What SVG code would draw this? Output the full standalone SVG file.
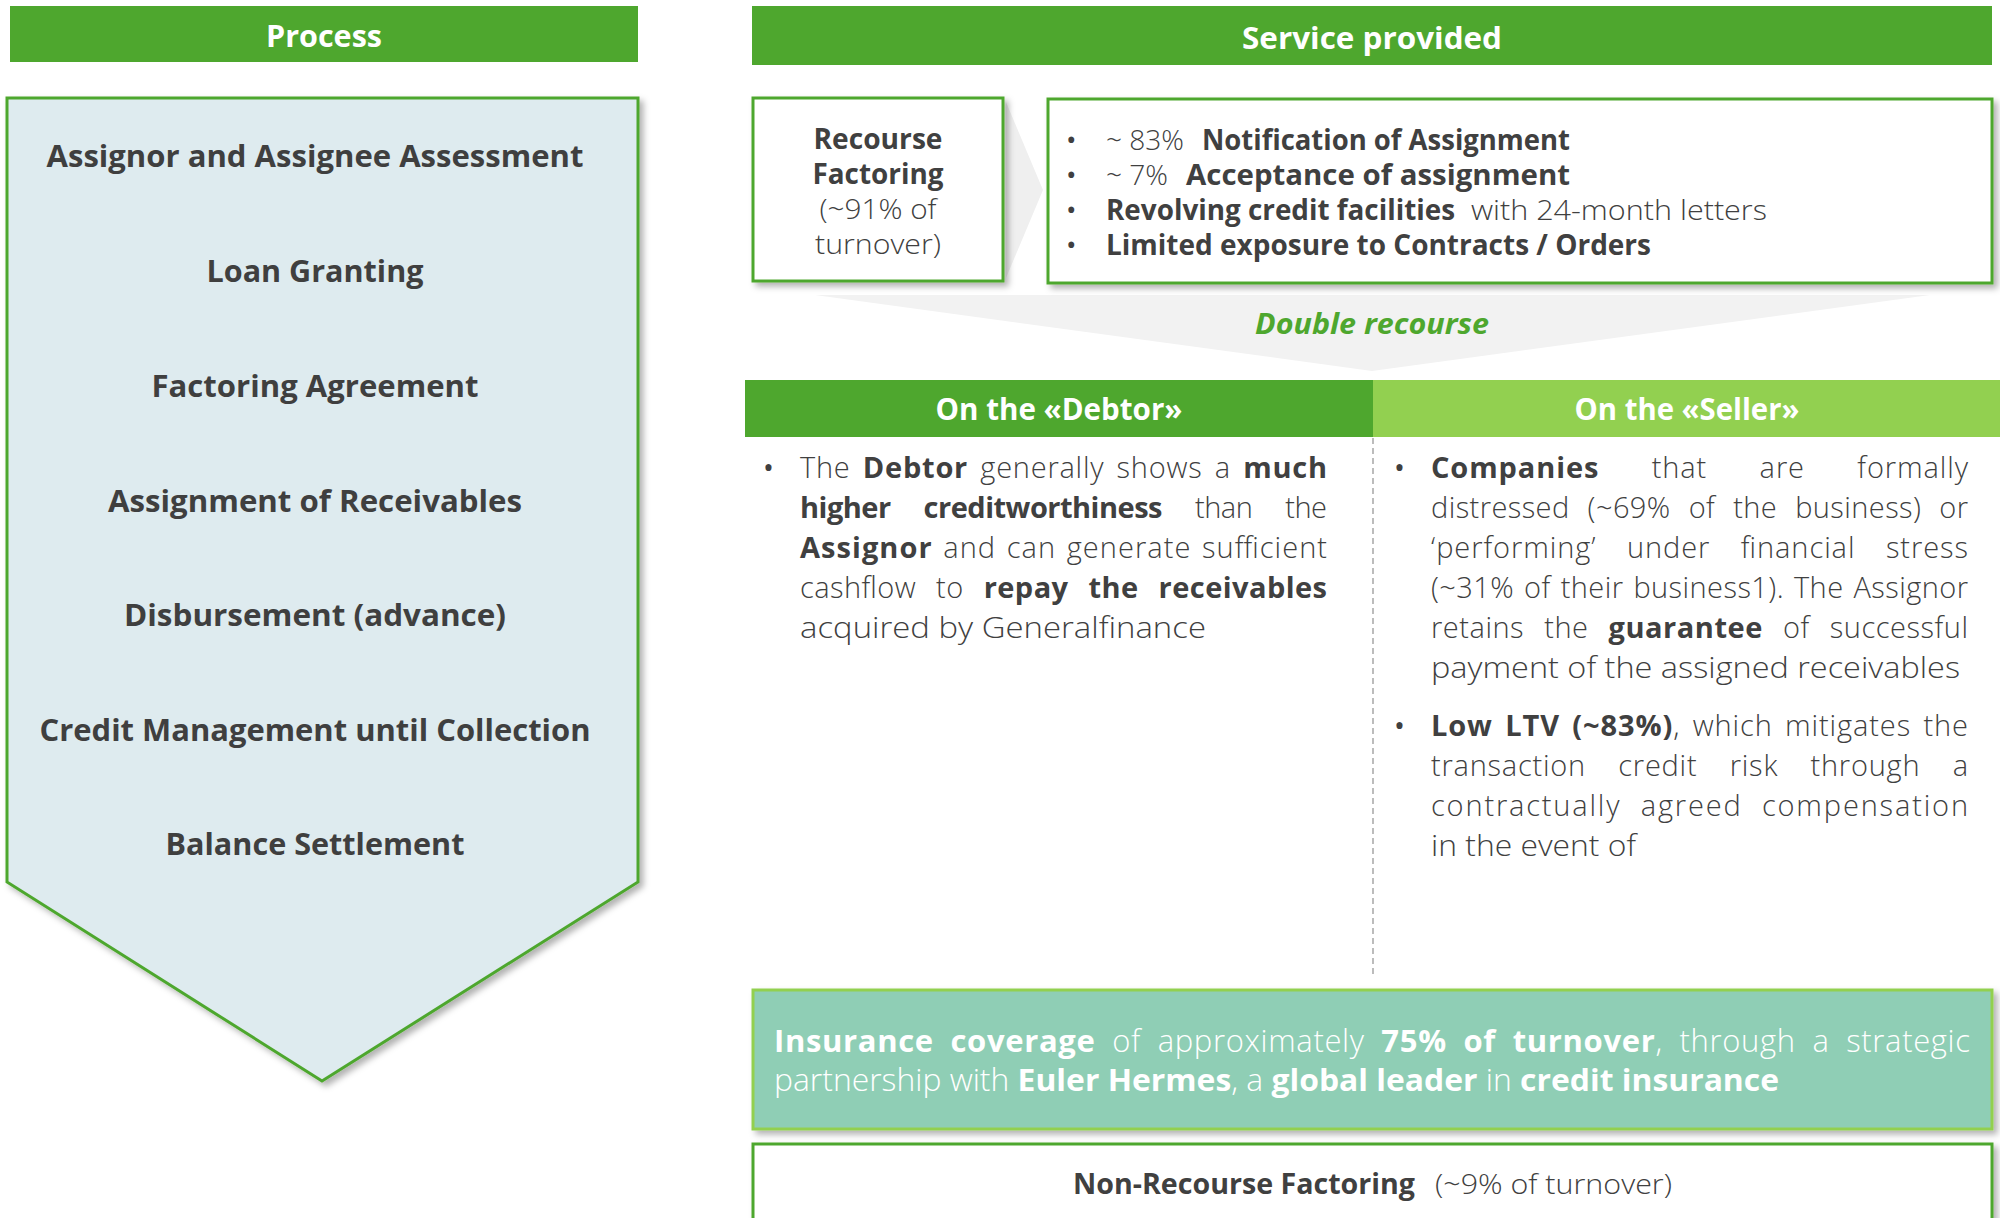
<svg xmlns="http://www.w3.org/2000/svg" width="2000" height="1218" viewBox="0 0 2000 1218">
<defs>
<style>
text{font-family:"Open Sans","Liberation Sans",sans-serif;fill:#404040;font-weight:300;}
.b{font-weight:700;}
.hd{font-weight:700;fill:#ffffff;font-size:31px;text-anchor:middle;}
.pi{font-weight:700;font-size:30px;text-anchor:middle;fill:#3f3f3f;}
.rb{font-size:28px;}
.bd{font-size:29px;}
.ins{font-size:31px;fill:#ffffff;}
.ins tspan.b{fill:#ffffff;}
.bl{font-weight:400;}
.box{fill:#ffffff;stroke:#4ea72e;stroke-width:3;}
</style>
<filter id="sh" x="-5%" y="-5%" width="115%" height="115%">
<feDropShadow dx="4" dy="4" stdDeviation="3" flood-color="#000000" flood-opacity="0.3"/>
</filter>
</defs>
<rect width="2000" height="1218" fill="#ffffff"/>

<g id="process-header">
<rect x="10" y="6" width="628" height="56" fill="#4ea72e"/>
<text class="hd" x="324" y="47" textLength="116" lengthAdjust="spacingAndGlyphs">Process</text>
</g>

<g id="process">
<polygon points="7,98 638,98 638,882 322,1081 7,882" fill="#deebef" stroke="#4ea72e" stroke-width="3" filter="url(#sh)"/>
<text class="pi" x="315" y="167" textLength="537" lengthAdjust="spacingAndGlyphs">Assignor and Assignee Assessment</text>
<text class="pi" x="315" y="282" textLength="217" lengthAdjust="spacingAndGlyphs">Loan Granting</text>
<text class="pi" x="315" y="397" textLength="327" lengthAdjust="spacingAndGlyphs">Factoring Agreement</text>
<text class="pi" x="315" y="512" textLength="414" lengthAdjust="spacingAndGlyphs">Assignment of Receivables</text>
<text class="pi" x="315" y="626" textLength="382" lengthAdjust="spacingAndGlyphs">Disbursement (advance)</text>
<text class="pi" x="315" y="741" textLength="551" lengthAdjust="spacingAndGlyphs">Credit Management until Collection</text>
<text class="pi" x="315" y="855" textLength="299" lengthAdjust="spacingAndGlyphs">Balance Settlement</text>
</g>

<g id="service-header">
<rect x="752" y="6" width="1240" height="59" fill="#4ea72e"/>
<text class="hd" x="1372" y="49" textLength="260" lengthAdjust="spacingAndGlyphs">Service provided</text>
</g>

<g id="connectors">
<polygon points="1006,102 1043,190 1006,278" fill="#efefef"/>
<polygon points="815,295 1930,295 1372,371" fill="#f2f2f2"/>
<line x1="1373" y1="438" x2="1373" y2="975" stroke="#a6a6a6" stroke-width="1.5" stroke-dasharray="6 4"/>
</g>

<g id="recourse-factoring">
<rect class="box" x="753" y="98" width="250" height="183" filter="url(#sh)"/>
<text class="rb b" x="878" y="149" text-anchor="middle" textLength="129" lengthAdjust="spacingAndGlyphs">Recourse</text>
<text class="rb b" x="878" y="184" text-anchor="middle" textLength="131" lengthAdjust="spacingAndGlyphs">Factoring</text>
<text class="rb" x="878" y="219" text-anchor="middle" textLength="117" lengthAdjust="spacingAndGlyphs">(~91% of</text>
<text class="rb" x="878" y="254" text-anchor="middle" textLength="126" lengthAdjust="spacingAndGlyphs">turnover)</text>
</g>

<g id="recourse-features">
<rect class="box" x="1048" y="99" width="944" height="184" filter="url(#sh)"/>
<text class="rb bl" x="1066" y="150">•</text>
<text class="rb bl" x="1066" y="185">•</text>
<text class="rb bl" x="1066" y="220">•</text>
<text class="rb bl" x="1066" y="255">•</text>
<text class="rb" x="1106" y="150" textLength="78" lengthAdjust="spacingAndGlyphs">~ 83%</text>
<text class="rb b" x="1202" y="150" textLength="368" lengthAdjust="spacingAndGlyphs">Notification of Assignment</text>
<text class="rb" x="1106" y="185" textLength="62" lengthAdjust="spacingAndGlyphs">~ 7%</text>
<text class="rb b" x="1186" y="185" textLength="384" lengthAdjust="spacingAndGlyphs">Acceptance of assignment</text>
<text class="rb b" x="1106" y="220" textLength="349" lengthAdjust="spacingAndGlyphs">Revolving credit facilities</text>
<text class="rb" x="1471" y="220" textLength="296" lengthAdjust="spacingAndGlyphs">with 24-month letters</text>
<text class="rb b" x="1106" y="255" textLength="545" lengthAdjust="spacingAndGlyphs">Limited exposure to Contracts / Orders</text>
</g>

<g id="double-recourse">
<text x="1372" y="334" text-anchor="middle" font-size="28" font-style="italic" style="fill:#4ea72e;font-weight:700" textLength="234" lengthAdjust="spacingAndGlyphs">Double recourse</text>
</g>

<g id="debtor">
<rect x="745" y="380" width="628" height="57" fill="#4ea72e"/>
<text class="hd" x="1059" y="420" textLength="247" lengthAdjust="spacingAndGlyphs">On the «Debtor»</text>
<text class="bd bl" x="763" y="478">•</text>
<text class="bd" x="800" y="478" textLength="527" lengthAdjust="spacing" style="word-spacing:4px">The <tspan class="b">Debtor</tspan> generally shows a <tspan class="b">much</tspan></text>
<text class="bd" x="800" y="518" textLength="527" lengthAdjust="spacing" style="word-spacing:26px"><tspan class="b">higher creditworthiness</tspan> than the</text>
<text class="bd" x="800" y="558" textLength="527" lengthAdjust="spacing" style="word-spacing:2px"><tspan class="b">Assignor</tspan> and can generate sufficient</text>
<text class="bd" x="800" y="598" textLength="527" lengthAdjust="spacing" style="word-spacing:12px">cashflow to <tspan class="b">repay the receivables</tspan></text>
<text class="bd" x="800" y="638" textLength="406" lengthAdjust="spacingAndGlyphs">acquired by Generalfinance</text>
</g>

<g id="seller">
<rect x="1373" y="380" width="627" height="57" fill="#92d050"/>
<text class="hd" x="1687" y="420" textLength="225" lengthAdjust="spacingAndGlyphs">On the «Seller»</text>
<text class="bd bl" x="1394" y="478">•</text>
<text class="bd" x="1431" y="478" textLength="537" lengthAdjust="spacing" style="word-spacing:44px"><tspan class="b">Companies</tspan> that are formally</text>
<text class="bd" x="1431" y="518" textLength="537" lengthAdjust="spacing" style="word-spacing:10px">distressed (~69% of the business) or</text>
<text class="bd" x="1431" y="558" textLength="537" lengthAdjust="spacing" style="word-spacing:22px">‘performing’ under financial stress</text>
<text class="bd" x="1431" y="598" textLength="537" lengthAdjust="spacing" style="word-spacing:2px">(~31% of their business1). The Assignor</text>
<text class="bd" x="1431" y="638" textLength="537" lengthAdjust="spacing" style="word-spacing:12px">retains the <tspan class="b">guarantee</tspan> of successful</text>
<text class="bd" x="1431" y="678" textLength="529" lengthAdjust="spacingAndGlyphs">payment of the assigned receivables</text>
<text class="bd bl" x="1394" y="736">•</text>
<text class="bd" x="1431" y="736" textLength="537" lengthAdjust="spacing" style="word-spacing:4px"><tspan class="b">Low LTV (~83%)</tspan>, which mitigates the</text>
<text class="bd" x="1431" y="776" textLength="537" lengthAdjust="spacing" style="word-spacing:24px">transaction credit risk through a</text>
<text class="bd" x="1431" y="816" textLength="537" lengthAdjust="spacing" style="word-spacing:10px">contractually agreed compensation</text>
<text class="bd" x="1431" y="856" textLength="205" lengthAdjust="spacingAndGlyphs">in the event of</text>
</g>

<g id="insurance">
<rect x="753" y="990" width="1239" height="139" fill="#8fceb5" stroke="#92d050" stroke-width="3" filter="url(#sh)"/>
<text class="ins" x="774" y="1052" textLength="1196" lengthAdjust="spacing" style="word-spacing:8px"><tspan class="b">Insurance coverage</tspan> of approximately <tspan class="b">75% of turnover</tspan>, through a strategic</text>
<text class="ins" x="774" y="1091" textLength="1005" lengthAdjust="spacingAndGlyphs">partnership with <tspan class="b">Euler Hermes</tspan>, a <tspan class="b">global leader</tspan> in <tspan class="b">credit insurance</tspan></text>
</g>

<g id="non-recourse">
<rect class="box" x="753" y="1144" width="1239" height="90" filter="url(#sh)"/>
<text class="rb b" x="1073" y="1194" textLength="342" lengthAdjust="spacingAndGlyphs">Non-Recourse Factoring</text>
<text class="rb" x="1435" y="1194" textLength="237" lengthAdjust="spacingAndGlyphs">(~9% of turnover)</text>
</g>
</svg>
